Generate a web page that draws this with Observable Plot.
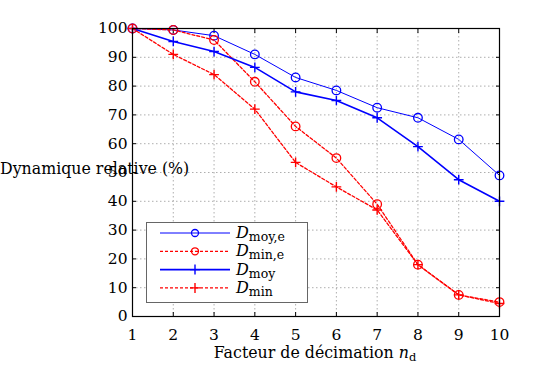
<!DOCTYPE html>
<html><head><meta charset="utf-8">
<script src="https://cdn.jsdelivr.net/npm/d3@7"></script>
<script src="https://cdn.jsdelivr.net/npm/@observablehq/plot@0.6"></script>
<style>
body{margin:0;background:#fff;}
#chart{position:relative;width:544px;height:365px;}
</style></head>
<body><div id="chart"></div>
<script>
const decimation = [1,2,3,4,5,6,7,8,9,10];
const dMoyE = [100,99.5,97.5,91,83,78.5,72.5,69,61.5,49];
const dMinE = [100,99.5,96,81.5,66,55,39,18,7.5,5];
const dMoy  = [100,95.5,92,86.5,78,75,69,59,47.5,40];
const dMin  = [100,91,84,72,53.5,45,37,18,7.5,4.5];
const yTicks = [0,10,20,30,40,50,60,70,80,90,100];

const FONT = "'DejaVu Serif', 'Liberation Serif', serif";
const seriesDefs = [
  {key:"moy,e", values:dMoyE, color:"blue", width:1, dash:null, sym:"circle"},
  {key:"min,e", values:dMinE, color:"red", width:1.3, dash:"3,2", sym:"circle"},
  {key:"moy",   values:dMoy,  color:"blue", width:1.6, dash:null, sym:"plus"},
  {key:"min",   values:dMin,  color:"red", width:1.3, dash:"3,2", sym:"plus"}
];
const plusSym = {draw(ctx, size){const r = Math.sqrt(size)/2; ctx.moveTo(-r,0);ctx.lineTo(r,0);ctx.moveTo(0,-r);ctx.lineTo(0,r);}};

const marks = [
  Plot.gridX(decimation,{stroke:"#999",strokeOpacity:1,strokeDasharray:"1.5,2.5",strokeWidth:0.8}),
  Plot.gridY(yTicks,{stroke:"#999",strokeOpacity:1,strokeDasharray:"1.5,2.5",strokeWidth:0.8}),
  Plot.axisX(decimation,{anchor:"bottom",tickSize:-4,tickPadding:16,label:null,fontSize:15.5}),
  Plot.axisX(decimation,{anchor:"top",tickSize:-4,tickFormat:()=>"",label:null}),
  Plot.axisY(yTicks,{anchor:"left",tickSize:-4,tickPadding:9,label:null,fontSize:15.5}),
  Plot.axisY(yTicks,{anchor:"right",tickSize:-4,tickFormat:()=>"",label:null}),
];
for (const s of seriesDefs) {
  const data = decimation.map((x,i)=>({x, y:s.values[i]}));
  marks.push(Plot.line(data,{x:"x",y:"y",stroke:s.color,strokeWidth:s.width,strokeDasharray:s.dash}));
  if (s.sym==="circle") marks.push(Plot.dot(data,{x:"x",y:"y",r:4.3,stroke:s.color,strokeWidth:1.3,fill:"none"}));
  else marks.push(Plot.dot(data,{x:"x",y:"y",symbol:plusSym,r:5.5,stroke:s.color,strokeWidth:1.4,fill:"none"}));
}
marks.push(Plot.frame({stroke:"#000",strokeWidth:1.2}));

const plot = Plot.plot({
  width:544, height:365,
  marginLeft:132, marginRight:45, marginTop:28, marginBottom:49,
  x:{domain:[1,10]},
  y:{domain:[0,100]},
  style:{fontSize:"15.5px",background:"#fff",color:"#000",overflow:"visible",fontFamily:FONT},
  marks
});
document.getElementById("chart").appendChild(plot);

const svg = d3.select(plot);
// axis labels
svg.append("text").attr("x",0).attr("y",174).attr("text-anchor","start").attr("font-size",15.8).attr("fill","#000")
  .text("Dynamique relative (%)");
const xl = svg.append("text").attr("x",315).attr("y",358).attr("text-anchor","middle").attr("font-size",15.8).attr("fill","#000");
xl.append("tspan").text("Facteur de décimation ");
xl.append("tspan").attr("font-style","italic").text("n");
xl.append("tspan").attr("font-size",11.5).attr("dy",3).text("d");

// legend
const lg = svg.append("g");
lg.append("rect").attr("x",146.5).attr("y",222.5).attr("width",161).attr("height",80).attr("fill","#fff").attr("stroke","#666").attr("stroke-width",1);
seriesDefs.forEach((s,i)=>{
  const y = 233 + i*18.3;
  lg.append("line").attr("x1",160).attr("x2",230).attr("y1",y).attr("y2",y)
    .attr("stroke",s.color).attr("stroke-width",s.width).attr("stroke-dasharray",s.dash);
  if (s.sym==="circle") lg.append("circle").attr("cx",195).attr("cy",y).attr("r",3.5).attr("fill","none").attr("stroke",s.color).attr("stroke-width",1.3);
  else lg.append("path").attr("d",`M190,${y}H200M195,${y-5}V${y+5}`).attr("stroke",s.color).attr("stroke-width",1.4);
  const t = lg.append("text").attr("x",236).attr("y",y+5).attr("text-anchor","start").attr("font-size",16).attr("fill","#000");
  t.append("tspan").attr("font-style","italic").text("D");
  t.append("tspan").attr("font-size",12.5).attr("dy",3).text(s.key);
});
svg.selectAll("text").style("font-family", FONT);
</script></body></html>
